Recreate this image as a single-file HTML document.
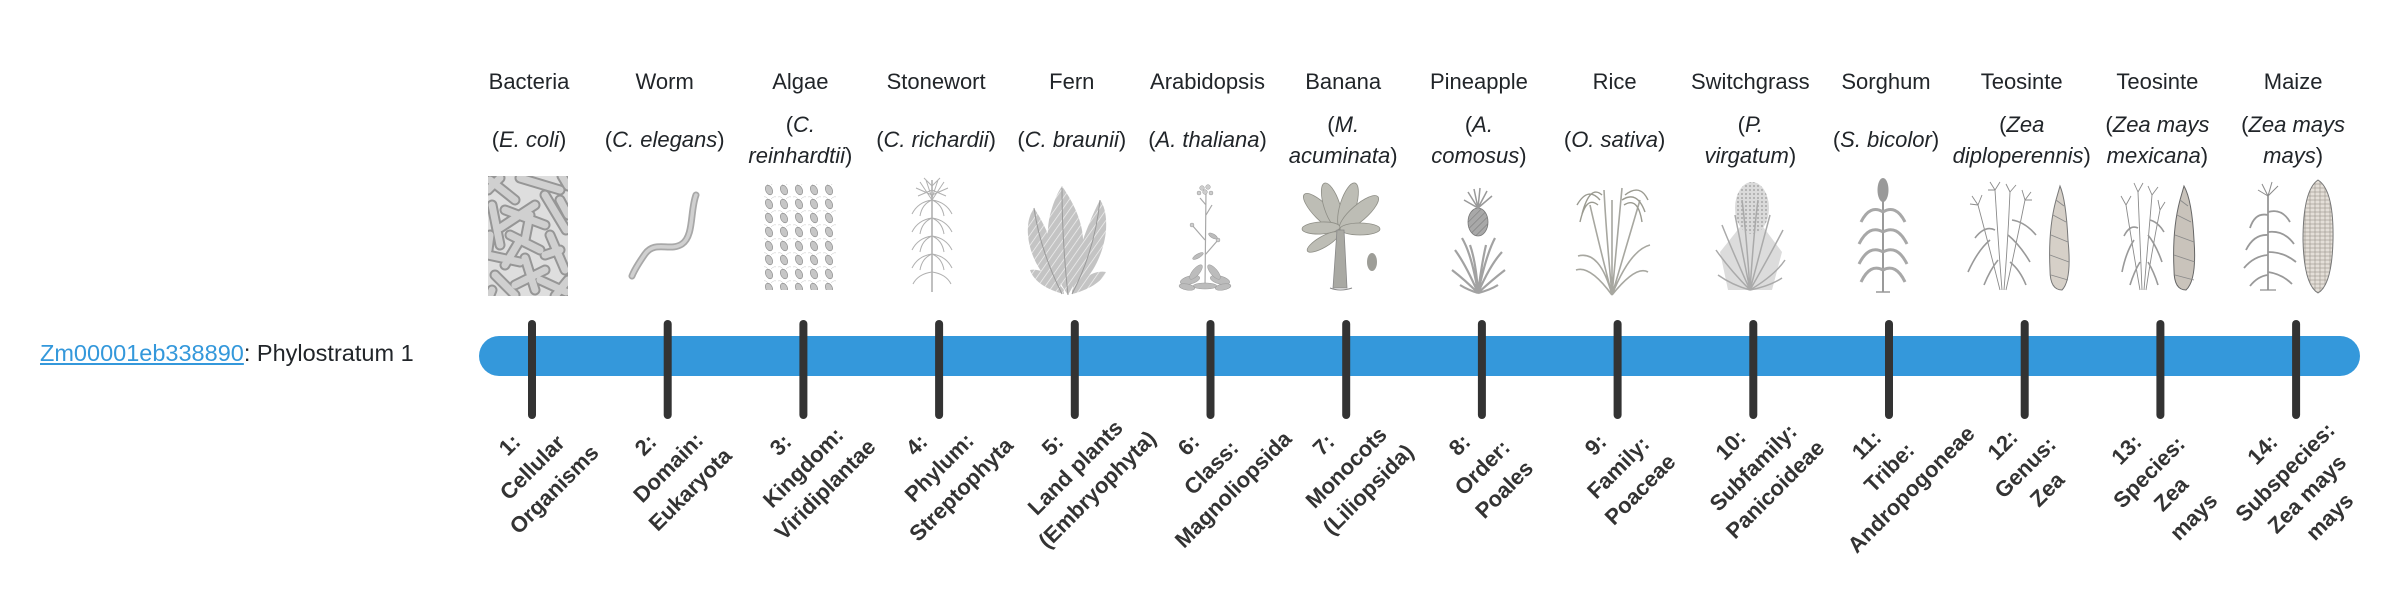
<!DOCTYPE html>
<html><head><meta charset="utf-8">
<style>
html,body{margin:0;padding:0;background:#fff;}
body{position:relative;width:2400px;height:580px;overflow:hidden;font-family:"Liberation Sans",Arial,sans-serif;color:#212529;font-size:22px;line-height:31.5px;}
.n{position:absolute;top:66px;width:160px;text-align:center;white-space:nowrap;}
.s{position:absolute;width:160px;text-align:center;white-space:nowrap;}
.s1{top:124px;}
.s2{top:108.5px;}
.l{position:absolute;top:420px;width:240px;text-align:center;white-space:nowrap;font-weight:bold;color:#333;transform:rotate(-45deg);}
#lab{position:absolute;left:40px;top:337.5px;white-space:nowrap;font-size:23.5px;}
#lab a{color:#3498db;text-decoration:underline;}
svg{position:absolute;left:0;top:0;}
</style></head>
<body>
<svg width="2400" height="580" viewBox="0 0 2400 580" xmlns="http://www.w3.org/2000/svg">
<defs>
<clipPath id="bc"><rect x="488" y="176" width="80" height="120"/></clipPath>
<pattern id="alg" patternUnits="userSpaceOnUse" width="15" height="14" x="762" y="182">
<path d="M9 3 Q12 0 14 1 M6 3 Q4 0 1 1" stroke="#c4c4c4" stroke-width="0.5" fill="none"/>
<ellipse cx="7" cy="8" rx="3.3" ry="5" transform="rotate(-25 7 8)" fill="#c6c6c6" stroke="#8f8f8f" stroke-width="0.7"/>
</pattern>
<pattern id="fernp" patternUnits="userSpaceOnUse" width="6" height="6" patternTransform="rotate(35)">
<rect width="6" height="6" fill="#c4c4c4"/><line x1="0" y1="0" x2="0" y2="6" stroke="#f2f2f2" stroke-width="1.4"/>
</pattern>
<pattern id="hatch" patternUnits="userSpaceOnUse" width="5" height="5" patternTransform="rotate(45)">
<rect width="5" height="5" fill="#a8a8a8"/><line x1="0" y1="0" x2="0" y2="5" stroke="#777" stroke-width="1"/>
</pattern>
<pattern id="kern" patternUnits="userSpaceOnUse" width="5" height="4">
<rect width="5" height="4" fill="#e4dfd8" stroke="#9a948c" stroke-width="0.6"/>
</pattern>
<pattern id="dots" patternUnits="userSpaceOnUse" width="4" height="4">
<rect width="4" height="4" fill="#dadada"/><circle cx="2" cy="2" r="1" fill="#a8a8a8"/>
</pattern>
</defs>

<!-- Bacteria -->
<g clip-path="url(#bc)">
<rect x="488" y="176" width="80" height="120" fill="#dedede"/>
<g stroke-linecap="round" fill="none">
<g stroke="#969696" stroke-width="11">
<path d="M490 180 L515 200 M520 178 L560 190 M545 195 L566 230 M492 205 L500 245 M505 210 L545 225 M510 235 L540 250 M550 235 L565 270 M488 255 L520 262 M525 258 L535 290 M495 275 L515 295 M540 280 L566 292 M500 228 L535 205 M530 215 L525 240 M560 200 L568 215 M490 235 L488 250 M545 255 L560 250 M515 285 L545 270 M562 176 L568 186 M492 290 L488 300 M555 296 L568 280 M488 190 L500 178 M505 265 L520 240"/>
</g>
<g stroke="#d0d0d0" stroke-width="7">
<path d="M490 180 L515 200 M520 178 L560 190 M545 195 L566 230 M492 205 L500 245 M505 210 L545 225 M510 235 L540 250 M550 235 L565 270 M488 255 L520 262 M525 258 L535 290 M495 275 L515 295 M540 280 L566 292 M500 228 L535 205 M530 215 L525 240 M560 200 L568 215 M490 235 L488 250 M545 255 L560 250 M515 285 L545 270 M562 176 L568 186 M492 290 L488 300 M555 296 L568 280 M488 190 L500 178 M505 265 L520 240"/>
</g>
</g>
</g>

<!-- Worm -->
<g fill="none" stroke-linecap="round">
<path d="M696 195 C690 211 694 236 682 244 C670 252 655 240 645 254 C638 264 634 271 632 276" stroke="#a8a8a8" stroke-width="7"/>
<path d="M696 195 C690 211 694 236 682 244 C670 252 655 240 645 254 C638 264 634 271 632 276" stroke="#d0d0d0" stroke-width="3.5"/>
</g>

<!-- Algae -->
<rect x="764" y="184" width="72" height="106" fill="url(#alg)"/>

<!-- Stonewort -->
<g stroke="#b0b0b0" fill="none" stroke-width="1">
<line x1="932" y1="180" x2="932" y2="292" stroke-width="1.6"/>
<path d="M932 200 Q918 202 912 214 M932 200 Q946 202 952 214 M932 200 Q922 204 920 216 M932 200 Q942 204 944 216
M932 218 Q918 220 912 232 M932 218 Q946 220 952 232 M932 218 Q922 222 920 234 M932 218 Q942 222 944 234
M932 236 Q918 238 912 250 M932 236 Q946 238 952 250 M932 236 Q922 240 920 252 M932 236 Q942 240 944 252
M932 254 Q918 256 912 268 M932 254 Q946 256 952 268 M932 254 Q922 258 920 270 M932 254 Q942 258 944 270
M932 272 Q918 274 913 284 M932 272 Q946 274 951 284
M932 200 L920 182 M932 200 L944 182 M932 198 L926 180 M932 198 L938 180 M932 195 L916 188 M932 195 L948 188 M932 190 L918 196 M932 190 L946 196 M932 186 L924 178 M932 186 L940 178"/>
</g>

<!-- Fern -->
<g stroke="none">
<path d="M1068 295 C1050 270 1044 240 1050 215 C1054 200 1058 192 1062 186 C1068 195 1078 210 1082 230 C1086 255 1080 275 1068 295 Z" fill="url(#fernp)"/>
<path d="M1062 294 C1045 280 1030 260 1028 235 C1027 222 1030 214 1034 208 C1042 220 1052 240 1058 262 Z" fill="url(#fernp)"/>
<path d="M1072 294 C1090 280 1104 255 1106 230 C1107 215 1104 205 1100 200 C1092 215 1082 240 1076 262 Z" fill="url(#fernp)"/>
<path d="M1064 294 C1048 290 1034 282 1030 270 C1040 268 1052 275 1064 290 Z" fill="url(#fernp)"/>
<path d="M1072 294 C1088 290 1102 282 1106 272 C1096 270 1084 276 1072 290 Z" fill="url(#fernp)"/>
<path d="M1068 295 Q1062 240 1062 188 M1062 294 Q1040 250 1034 208 M1072 294 Q1095 250 1100 200" stroke="#9a9a9a" stroke-width="1" fill="none"/>
</g>

<!-- Arabidopsis -->
<g>
<path d="M1205 288 L1206 190 M1205 240 L1192 225 M1205 255 L1218 240 M1206 215 L1212 205 M1206 205 L1200 198" stroke="#a8a8a8" stroke-width="1.2" fill="none"/>
<g fill="#cdcdcd" stroke="#999" stroke-width="0.5">
<circle cx="1202" cy="188" r="2.3"/><circle cx="1208" cy="187" r="2.3"/><circle cx="1205" cy="192" r="2.3"/><circle cx="1199" cy="193" r="2"/><circle cx="1211" cy="193" r="2"/><circle cx="1192" cy="225" r="2"/><circle cx="1218" cy="240" r="2"/>
</g>
<g fill="#bcbcbc" stroke="#999" stroke-width="0.5">
<ellipse cx="1190" cy="280" rx="10" ry="4" transform="rotate(-15 1190 280)"/>
<ellipse cx="1220" cy="280" rx="10" ry="4" transform="rotate(15 1220 280)"/>
<ellipse cx="1196" cy="272" rx="9" ry="3.5" transform="rotate(-50 1196 272)"/>
<ellipse cx="1214" cy="272" rx="9" ry="3.5" transform="rotate(50 1214 272)"/>
<ellipse cx="1205" cy="286" rx="12" ry="3"/>
<ellipse cx="1187" cy="287" rx="8" ry="3" transform="rotate(10 1187 287)"/>
<ellipse cx="1223" cy="287" rx="8" ry="3" transform="rotate(-10 1223 287)"/>
<ellipse cx="1198" cy="256" rx="6" ry="2" transform="rotate(-30 1198 256)"/>
<ellipse cx="1213" cy="236" rx="5" ry="2" transform="rotate(30 1213 236)"/>
</g>
</g>

<!-- Banana -->
<g>
<g fill="#bdbdb5" stroke="#8e8e86" stroke-width="0.8">
<ellipse cx="1322" cy="212" rx="25" ry="8" transform="rotate(45 1322 212)"/>
<ellipse cx="1332" cy="206" rx="24" ry="8" transform="rotate(72 1332 206)"/>
<ellipse cx="1348" cy="206" rx="24" ry="8" transform="rotate(-73 1348 206)"/>
<ellipse cx="1359" cy="213" rx="25" ry="8" transform="rotate(-41 1359 213)"/>
<ellipse cx="1321" cy="228" rx="19" ry="6" transform="rotate(-3 1321 228)"/>
<ellipse cx="1360" cy="229" rx="20" ry="6"/>
<ellipse cx="1323" cy="242" rx="18" ry="5.5" transform="rotate(-30 1323 242)"/>
</g>
<path d="M1333 288 L1347 288 L1344 230 L1337 230 Z" fill="#a9a9a3" stroke="#888" stroke-width="0.8"/>
<ellipse cx="1372" cy="262" rx="5" ry="9" fill="#9d9d97"/>
<path d="M1330 288 Q1340 292 1352 288" stroke="#888" stroke-width="1" fill="none"/>
</g>

<!-- Pineapple -->
<g>
<path d="M1478 293 Q1465 280 1452 270 M1478 293 Q1466 265 1455 250 M1478 293 Q1472 255 1462 238 M1478 293 Q1476 262 1470 245 M1478 293 Q1482 262 1486 245 M1478 293 Q1486 255 1495 238 M1478 293 Q1490 265 1502 252 M1478 293 Q1492 280 1505 270 M1478 293 Q1468 290 1460 285 M1478 293 Q1490 290 1498 285" stroke="#a2a2a2" stroke-width="2.2" fill="none"/>
<ellipse cx="1478" cy="222" rx="10" ry="14" fill="url(#hatch)" stroke="#777" stroke-width="0.8"/>
<path d="M1478 208 L1468 192 M1478 208 L1474 189 M1478 208 L1480 188 M1478 208 L1487 191 M1478 208 L1492 196 M1478 208 L1464 200" stroke="#999" stroke-width="1.5" fill="none"/>
</g>

<!-- Rice -->
<g fill="none" stroke="#a7a7a0" stroke-width="1.6">
<path d="M1612 295 Q1600 250 1578 256 M1612 295 Q1598 240 1590 205 M1612 295 Q1606 230 1604 190 M1612 295 Q1618 230 1622 188 M1612 295 Q1628 240 1640 200 M1612 295 Q1630 250 1650 245 M1612 295 Q1590 265 1576 270 M1612 295 Q1636 265 1648 272 M1612 295 Q1612 240 1612 200"/>
<path d="M1600 200 Q1588 186 1577 205 M1602 195 Q1590 184 1582 214 M1598 205 Q1586 195 1580 222 M1625 195 Q1640 183 1648 200 M1622 200 Q1637 190 1645 212 M1624 205 Q1638 196 1642 222" stroke="#9a9a90" stroke-width="1.4"/>
</g>

<!-- Switchgrass -->
<g>
<path d="M1728 290 L1772 290 L1782 252 L1752 212 L1720 252 Z" fill="#dcdcdc"/>
<ellipse cx="1752" cy="208" rx="17" ry="26" fill="url(#dots)"/>
<path d="M1750 290 Q1730 270 1716 250 M1750 290 Q1732 250 1722 225 M1750 290 Q1740 240 1735 215 M1750 290 Q1746 230 1742 200 M1750 290 Q1754 230 1758 200 M1750 290 Q1762 245 1770 215 M1750 290 Q1770 255 1783 230 M1750 290 Q1775 275 1785 260 M1750 290 Q1732 285 1718 275 M1750 290 Q1770 286 1782 278" stroke="#aaaaaa" stroke-width="1.5" fill="none"/>
</g>

<!-- Sorghum -->
<g>
<line x1="1883" y1="195" x2="1883" y2="292" stroke="#9a9a9a" stroke-width="2"/>
<ellipse cx="1883" cy="190" rx="5.5" ry="12" fill="#9a9a9a"/>
<path d="M1883 212 Q1870 204 1861 222 M1883 212 Q1896 204 1905 222 M1883 232 Q1869 224 1859 244 M1883 232 Q1897 224 1907 244 M1883 252 Q1869 244 1859 264 M1883 252 Q1897 244 1907 264 M1883 270 Q1870 263 1861 282 M1883 270 Q1896 263 1905 282" stroke="#a8a8a8" stroke-width="3" fill="none"/>
<path d="M1876 292 L1890 292" stroke="#999" stroke-width="1.5"/>
</g>

<!-- Teosinte 1 -->
<g fill="none" stroke="#8a8a8a" stroke-width="0.9">
<path d="M2000 290 Q1990 250 1978 205 M2002 290 Q1998 240 1995 190 M2004 290 Q2008 240 2010 192 M2006 290 Q2016 245 2025 200"/>
<path d="M1978 205 L1972 196 M1978 205 L1982 195 M1978 205 L1970 204 M1995 190 L1990 182 M1995 190 L2000 182 M1995 190 L1988 190 M2010 192 L2006 184 M2010 192 L2016 185 M2025 200 L2022 190 M2025 200 L2031 192 M2025 200 L2032 200"/>
<path d="M1990 240 Q1978 250 1968 272 M1995 230 Q1985 225 1975 238 M2008 235 Q2020 245 2030 262 M2012 220 Q2025 222 2036 235 M1998 260 Q1990 270 1984 285 M2010 262 Q2020 270 2026 285" stroke-width="1.6" stroke="#999"/>
<path d="M2060 186 Q2066 200 2068 240 Q2072 280 2062 290 Q2050 290 2050 270 Q2048 230 2056 200 Z" fill="#d6d0c8" stroke="#777" stroke-width="1"/>
<path d="M2053 215 L2066 222 M2051 235 L2068 242 M2050 255 L2069 262 M2051 275 L2068 280 M2056 200 L2064 206"/>
</g>

<!-- Teosinte 2 -->
<g fill="none" stroke="#8a8a8a" stroke-width="0.9">
<path d="M2140 290 Q2133 250 2126 205 M2142 290 Q2140 240 2138 192 M2144 290 Q2148 240 2152 195 M2146 290 Q2152 250 2160 210"/>
<path d="M2126 205 L2121 196 M2126 205 L2131 196 M2138 192 L2134 183 M2138 192 L2143 183 M2152 195 L2148 186 M2152 195 L2158 187 M2160 210 L2158 200 M2160 210 L2165 202"/>
<path d="M2134 240 Q2126 252 2122 272 M2138 228 Q2130 224 2124 236 M2148 235 Q2156 245 2162 262 M2150 220 Q2158 222 2164 232 M2140 262 Q2134 272 2130 285 M2148 262 Q2154 272 2158 285" stroke-width="1.6" stroke="#999"/>
<path d="M2184 186 Q2192 200 2194 240 Q2197 280 2186 290 Q2174 290 2174 270 Q2172 230 2180 200 Z" fill="#c9c3bb" stroke="#666" stroke-width="1"/>
<path d="M2177 215 L2191 222 M2175 235 L2194 242 M2174 255 L2195 262 M2175 275 L2194 280 M2180 200 L2188 206"/>
</g>

<!-- Maize -->
<g fill="none" stroke="#8a8a8a">
<line x1="2268" y1="196" x2="2268" y2="290" stroke-width="1.6"/>
<path d="M2268 196 L2262 184 M2268 196 L2272 182 M2268 196 L2278 186 M2268 196 L2258 190" stroke-width="1"/>
<path d="M2268 215 Q2255 212 2250 228 M2268 212 Q2282 208 2290 222 M2268 235 Q2254 234 2246 250 M2268 232 Q2284 230 2294 244 M2268 255 Q2254 256 2244 268 M2268 252 Q2284 252 2296 262 M2268 275 Q2258 276 2250 286 M2268 272 Q2282 274 2292 284" stroke="#999" stroke-width="1.8"/>
<path d="M2260 290 L2276 290" stroke-width="1.2"/>
<path d="M2318 180 Q2334 190 2333 240 Q2332 285 2318 293 Q2304 285 2303 240 Q2303 190 2318 180 Z" fill="url(#kern)" stroke="#777" stroke-width="1"/>
</g>

<!-- Bar -->
<rect x="479" y="336" width="1881" height="40" rx="20" ry="20" fill="#3498db"/>
<g fill="#333">
<rect x="528" y="320" width="8" height="99" rx="4"/>
<rect x="663.7" y="320" width="8" height="99" rx="4"/>
<rect x="799.4" y="320" width="8" height="99" rx="4"/>
<rect x="935.1" y="320" width="8" height="99" rx="4"/>
<rect x="1070.8" y="320" width="8" height="99" rx="4"/>
<rect x="1206.5" y="320" width="8" height="99" rx="4"/>
<rect x="1342.2" y="320" width="8" height="99" rx="4"/>
<rect x="1477.9" y="320" width="8" height="99" rx="4"/>
<rect x="1613.6" y="320" width="8" height="99" rx="4"/>
<rect x="1749.3" y="320" width="8" height="99" rx="4"/>
<rect x="1885" y="320" width="8" height="99" rx="4"/>
<rect x="2020.7" y="320" width="8" height="99" rx="4"/>
<rect x="2156.4" y="320" width="8" height="99" rx="4"/>
<rect x="2292.1" y="320" width="8" height="99" rx="4"/>
</g>
</svg>

<div class="n" style="left:449px">Bacteria</div>
<div class="n" style="left:584.7px">Worm</div>
<div class="n" style="left:720.4px">Algae</div>
<div class="n" style="left:856.1px">Stonewort</div>
<div class="n" style="left:991.8px">Fern</div>
<div class="n" style="left:1127.5px">Arabidopsis</div>
<div class="n" style="left:1263.2px">Banana</div>
<div class="n" style="left:1398.9px">Pineapple</div>
<div class="n" style="left:1534.6px">Rice</div>
<div class="n" style="left:1670.3px">Switchgrass</div>
<div class="n" style="left:1806px">Sorghum</div>
<div class="n" style="left:1941.7px">Teosinte</div>
<div class="n" style="left:2077.4px">Teosinte</div>
<div class="n" style="left:2213.1px">Maize</div>

<div class="s s1" style="left:449px">(<i>E. coli</i>)</div>
<div class="s s1" style="left:584.7px">(<i>C. elegans</i>)</div>
<div class="s s2" style="left:720.4px">(<i>C.</i><br><i>reinhardtii</i>)</div>
<div class="s s1" style="left:856.1px">(<i>C. richardii</i>)</div>
<div class="s s1" style="left:991.8px">(<i>C. braunii</i>)</div>
<div class="s s1" style="left:1127.5px">(<i>A. thaliana</i>)</div>
<div class="s s2" style="left:1263.2px">(<i>M.</i><br><i>acuminata</i>)</div>
<div class="s s2" style="left:1398.9px">(<i>A.</i><br><i>comosus</i>)</div>
<div class="s s1" style="left:1534.6px">(<i>O. sativa</i>)</div>
<div class="s s2" style="left:1670.3px">(<i>P.</i><br><i>virgatum</i>)</div>
<div class="s s1" style="left:1806px">(<i>S. bicolor</i>)</div>
<div class="s s2" style="left:1941.7px">(<i>Zea</i><br><i>diploperennis</i>)</div>
<div class="s s2" style="left:2077.4px">(<i>Zea mays</i><br><i>mexicana</i>)</div>
<div class="s s2" style="left:2213.1px">(<i>Zea mays</i><br><i>mays</i>)</div>

<div id="lab"><a>Zm00001eb338890</a>: Phylostratum 1</div>

<div class="l" style="left:412px">1:<br>Cellular<br>Organisms</div>
<div class="l" style="left:547.7px">2:<br>Domain:<br>Eukaryota</div>
<div class="l" style="left:683.4px">3:<br>Kingdom:<br>Viridiplantae</div>
<div class="l" style="left:819.1px">4:<br>Phylum:<br>Streptophyta</div>
<div class="l" style="left:954.8px">5:<br>Land plants<br>(Embryophyta)</div>
<div class="l" style="left:1090.5px">6:<br>Class:<br>Magnoliopsida</div>
<div class="l" style="left:1226.2px">7:<br>Monocots<br>(Liliopsida)</div>
<div class="l" style="left:1361.9px">8:<br>Order:<br>Poales</div>
<div class="l" style="left:1497.6px">9:<br>Family:<br>Poaceae</div>
<div class="l" style="left:1633.3px">10:<br>Subfamily:<br>Panicoideae</div>
<div class="l" style="left:1769px">11:<br>Tribe:<br>Andropogoneae</div>
<div class="l" style="left:1904.7px">12:<br>Genus:<br>Zea</div>
<div class="l" style="left:2040.4px">13:<br>Species:<br>Zea<br>mays</div>
<div class="l" style="left:2176.1px">14:<br>Subspecies:<br>Zea mays<br>mays</div>
</body></html>
